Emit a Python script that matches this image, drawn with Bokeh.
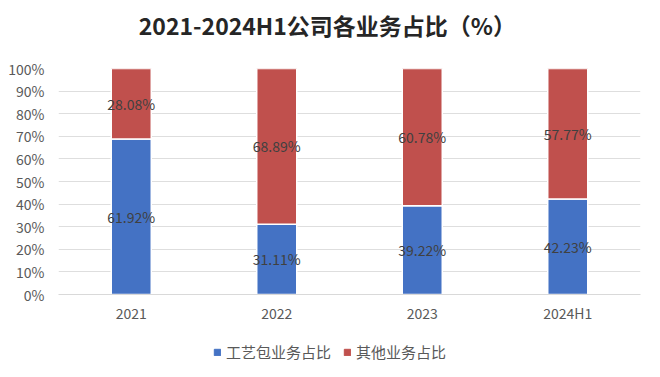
from bokeh.plotting import figure
from bokeh.layouts import column
from bokeh.models import ColumnDataSource, FactorRange, Range1d, NumeralTickFormatter, FixedTicker, Legend, LegendItem
from bokeh.core.properties import value
from bokeh.embed import file_html
from bokeh.resources import INLINE

# Business mix by period (labels as published)
periods = ["2021", "2022", "2023", "2024H1"]
craft_pkg = [61.92, 31.11, 39.22, 42.23]   # 工艺包业务占比
other_biz = [28.08, 68.89, 60.78, 57.77]   # 其他业务占比
series_names = ["工艺包业务占比", "其他业务占比"]
y_ticks = [0.0, 0.1, 0.2, 0.3, 0.4, 0.5, 0.6, 0.7, 0.8, 0.9, 1.0]
chart_title = "2021-2024H1公司各业务占比（%）"

BLUE = "#4472C4"
RED = "#C0504D"
FONT = "Noto Sans CJK SC"
colors = [BLUE, RED]
W = 660

# 100% stacked: each column is normalised to its own total
totals = [a + b for a, b in zip(craft_pkg, other_biz)]
craft_share = [a / t for a, t in zip(craft_pkg, totals)]
other_share = [b / t for b, t in zip(other_biz, totals)]

source = ColumnDataSource(dict(
    period=periods,
    craft=craft_share,
    other=other_share,
    craft_mid=[c / 2 for c in craft_share],
    other_mid=[c + o / 2 for c, o in zip(craft_share, other_share)],
    craft_lbl=[f"{v:.2f}%" for v in craft_pkg],
    other_lbl=[f"{v:.2f}%" for v in other_biz],
))


def strip(height):
    """An axis-less band for the heading and the legend (its frame lines up
    with the chart's frame inside the column)."""
    s = figure(
        width=W, height=height, output_backend="svg", toolbar_location=None,
        x_range=Range1d(0, 1), y_range=Range1d(0, 1),
        min_border_left=0, min_border_right=0, min_border_top=0, min_border_bottom=0,
        x_axis_location=None, y_axis_location=None,
    )
    s.grid.grid_line_color = None
    s.outline_line_color = None
    return s


# heading, centred on the full width rather than on the plot frame
head = strip(48)
head.text(x=[0.462], y=[0.5], text=[chart_title],
          text_align="center", text_baseline="middle",
          text_font=value(FONT), text_font_size="23px", text_font_style="bold",
          text_color="#262626")

# main chart
p = figure(
    width=W, height=282,
    x_range=FactorRange(*periods),
    y_range=Range1d(0, 1),
    output_backend="svg",
    toolbar_location=None,
    min_border_left=58, min_border_right=20,
    min_border_top=20, min_border_bottom=36,
)

p.vbar_stack(
    ["craft", "other"], x="period", width=0.275, source=source,
    color=colors, line_color="white", line_width=1.5,
)

for ycol, tcol in (("craft_mid", "craft_lbl"), ("other_mid", "other_lbl")):
    p.text(x="period", y=ycol, text=tcol, source=source,
           text_align="center", text_baseline="middle",
           text_font=value(FONT), text_font_size="14px", text_color="#404040")

p.yaxis.ticker = FixedTicker(ticks=y_ticks)
p.yaxis.formatter = NumeralTickFormatter(format="0%")
p.yaxis.axis_line_color = None
p.yaxis.major_tick_line_color = None
p.yaxis.minor_tick_line_color = None
p.yaxis.major_label_standoff = 8
p.yaxis.major_label_text_font = FONT
p.yaxis.major_label_text_font_size = "14px"
p.yaxis.major_label_text_color = "#595959"

p.xaxis.axis_line_color = "#d9d9d9"
p.xaxis.major_tick_line_color = None
p.xaxis.minor_tick_line_color = None
p.xaxis.major_label_standoff = 2
p.xaxis.major_label_text_font = FONT
p.xaxis.major_label_text_font_size = "14px"
p.xaxis.major_label_text_color = "#595959"

p.xgrid.grid_line_color = None
p.ygrid.grid_line_color = "#dedede"
p.outline_line_color = None

# legend band; swatch renderers hold a single NaN row so the legend can
# pick up their colours without drawing anything
nan = float("nan")
leg = strip(42)
swatches = [leg.vbar(x=[nan], top=[nan], width=0.1, color=c) for c in colors]
legend = Legend(
    items=[LegendItem(label=n, renderers=[r]) for n, r in zip(series_names, swatches)],
    orientation="horizontal", location=(155, 10),
    label_text_font=FONT, label_text_font_size="15px", label_text_color="#595959",
    glyph_width=8, glyph_height=8, spacing=12, label_standoff=5,
    border_line_color=None, background_fill_alpha=0, padding=0, margin=0,
)
leg.add_layout(legend)

layout = column(head, p, leg, spacing=0)
open("out.html", "w").write(file_html(layout, INLINE))
